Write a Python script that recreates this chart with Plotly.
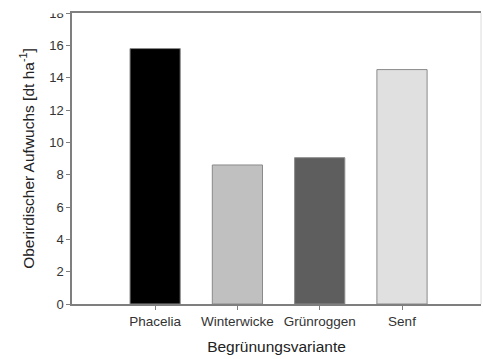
import plotly.graph_objects as go

# Dry matter yield of the cover crop variants
categories = ["Phacelia", "Winterwicke", "Grünroggen", "Senf"]
yield_dt_ha = [15.8, 8.6, 9.05, 14.5]
bar_colors = ["#000000", "#c0c0c0", "#5e5e5e", "#e0e0e0"]
y_ticks = [0, 2, 4, 6, 8, 10, 12, 14, 16, 18]

font_family = "Liberation Sans, Arial, sans-serif"
axis_grey = "#7f7f7f"

W, H = 483, 359
M_L, M_R, M_T, M_B = 72, 2, 13, 55
plot_w = W - M_L - M_R
plot_h = H - M_T - M_B

fig = go.Figure(
    go.Bar(
        x=categories,
        y=yield_dt_ha,
        width=0.61,
        marker=dict(color=bar_colors, line=dict(color="#8a8a8a", width=1)),
    )
)

fig.update_layout(
    width=W,
    height=H,
    margin=dict(l=M_L, r=M_R, t=M_T, b=M_B),
    paper_bgcolor="white",
    plot_bgcolor="white",
    showlegend=False,
    font=dict(family=font_family, size=13, color="#333333"),
    xaxis=dict(
        range=[-1.01, 3.96],
        showline=True,
        linecolor=axis_grey,
        linewidth=1.5,
        mirror=True,
        ticks="outside",
        ticklen=4,
        tickcolor=axis_grey,
        showgrid=False,
        tickfont=dict(size=13.5, color="#333333"),
        title=dict(text="Begrünungsvariante", font=dict(size=15.5, color="#222222"), standoff=13),
    ),
    yaxis=dict(
        range=[0, 18],
        tickvals=y_ticks,
        showline=True,
        linecolor=axis_grey,
        linewidth=1.5,
        ticks="outside",
        ticklen=4,
        tickcolor=axis_grey,
        showgrid=False,
        zeroline=False,
        tickfont=dict(size=13, color="#333333"),
        title=dict(
            text="Oberirdischer Aufwuchs [dt ha<sup>-1</sup>]",
            font=dict(size=15.5, color="#222222"),
            standoff=11,
        ),
    ),
    shapes=[
        # faint right frame edge
        dict(type="line", xref="paper", yref="paper", x0=1, x1=1, y0=0, y1=1,
             line=dict(color="#dcdcdc", width=1)),
        # the page edge trims the upper part of the topmost tick label
        dict(type="rect", xref="paper", yref="paper", layer="above",
             x0=(38 - M_L) / plot_w, x1=(66 - M_L) / plot_w,
             y0=1 - 0.5 / plot_h, y1=1 + (M_T + 2) / plot_h,
             fillcolor="white", line=dict(width=0)),
    ],
)

fig.write_html("out.html")
